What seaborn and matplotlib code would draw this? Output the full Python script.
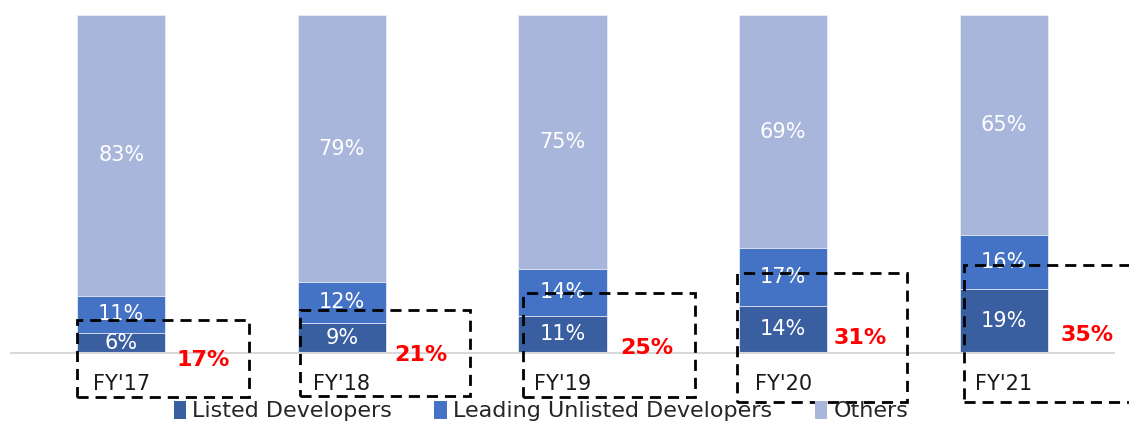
import matplotlib
matplotlib.use("Agg")
import matplotlib.pyplot as plt
import seaborn as sns
import pandas as pd
import numpy as np
from matplotlib.patches import Rectangle
from matplotlib.patches import Patch

# ---- data ----
categories = ["FY'17", "FY'18", "FY'19", "FY'20", "FY'21"]
listed = [6, 9, 11, 14, 19]
leading_unlisted = [11, 12, 14, 17, 16]
others = [83, 79, 75, 69, 65]
totals = ["17%", "21%", "25%", "31%", "35%"]
series_names = ["Listed Developers", "Leading Unlisted Developers", "Others"]

# ---- style ----
colors = ["#3A5FA0", "#4472C4", "#A8B6DB"]
FONT = ["DejaVu Sans"]

sns.set_theme(style="white")
plt.rcParams["font.family"] = FONT

fig = plt.figure(figsize=(11.29, 4.24), dpi=100)
ax = fig.add_axes([11 / 1129, 1 - 353 / 424, (1114 - 11) / 1129, (353 - 15) / 424])

df = pd.DataFrame({"cat": categories, "listed": listed,
                   "lead": leading_unlisted, "others": others})
df["c1"] = df["listed"]
df["c2"] = df["listed"] + df["lead"]
df["c3"] = df["c2"] + df["others"]

# draw cumulative bars back to front
for col, c in zip(["c3", "c2", "c1"], colors[::-1]):
    sns.barplot(data=df, x="cat", y=col, color=c, width=0.4, ax=ax,
                saturation=1, edgecolor="#E8ECF6", linewidth=0.6)

ax.set_ylim(0, 100)
ax.set_xlim(-0.5, 4.5)
ax.set_xlabel("")
ax.set_ylabel("")
ax.set_yticks([])
for s in ["top", "right", "left"]:
    ax.spines[s].set_visible(False)
ax.spines["bottom"].set_color("#D9D9D9")
ax.spines["bottom"].set_linewidth(1.5)
ax.tick_params(axis="x", length=0, pad=15, labelsize=15, labelcolor="#1a1a1a")

# segment labels
for i in range(len(categories)):
    b = 0
    for v in (listed[i], leading_unlisted[i], others[i]):
        ax.text(i, b + v / 2, f"{v}%", ha="center", va="center",
                color="white", fontsize=15)
        b += v

# red total labels and dashed boxes (annotation geometry)
label_dx = [0.37, 0.36, 0.38, 0.35, 0.38]
label_y = [-2.0, -0.6, 1.5, 4.5, 5.3]
box_x0 = [-0.20, -0.19, -0.18, -0.21, -0.18]
box_x1 = [0.58, 0.58, 0.60, 0.56, 0.80]
box_top = [9.8, 12.7, 17.7, 23.7, 26.0]
box_bot = [-13.0, -12.7, -13.0, -14.5, -14.5]
for i in range(len(categories)):
    ax.text(i + label_dx[i], label_y[i], totals[i], ha="center", va="center",
            color="#FF0000", fontsize=16, fontweight="bold", clip_on=False)
    ax.add_patch(Rectangle((i + box_x0[i], box_bot[i]), box_x1[i] - box_x0[i],
                           box_top[i] - box_bot[i], fill=False, edgecolor="black",
                           linewidth=2, linestyle=(0, (4, 2.5)), clip_on=False,
                           zorder=5))

handles = [Patch(facecolor=c, edgecolor="none") for c in colors]
fig.legend(handles, series_names, loc="center", bbox_to_anchor=(541 / 1129, 1 - 411 / 424),
           ncol=3, frameon=False, fontsize=16, handlelength=0.55, handleheight=0.9,
           handletextpad=0.3, columnspacing=1.9, borderaxespad=0, borderpad=0)

fig.savefig("out.png", dpi=100)
